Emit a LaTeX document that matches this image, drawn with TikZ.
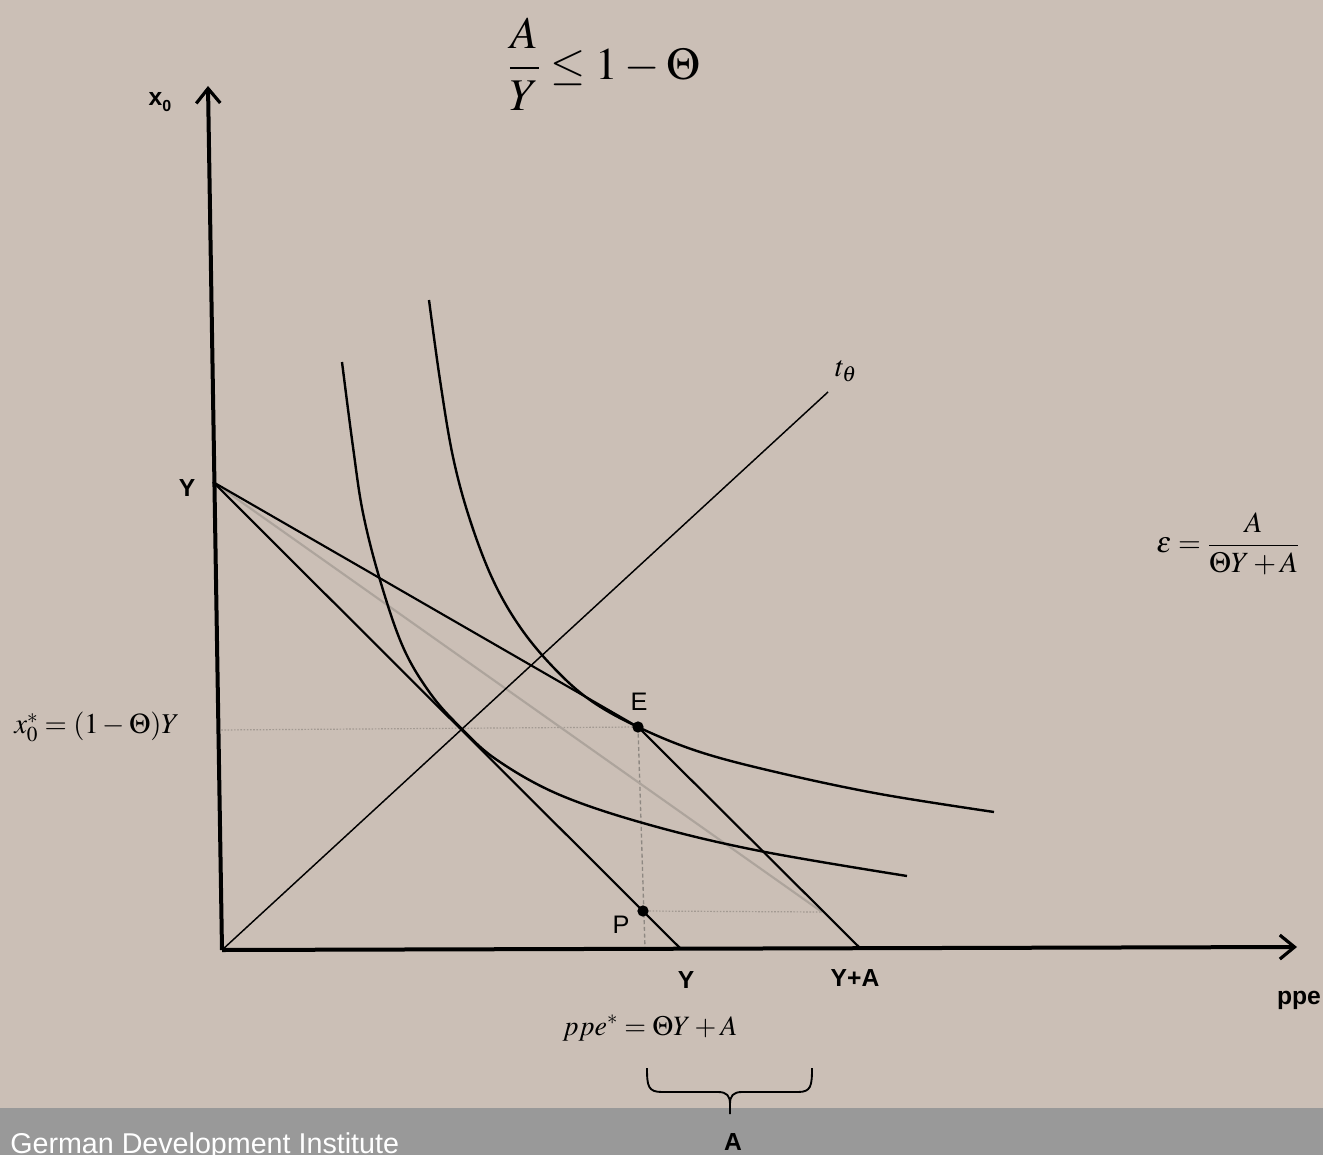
\documentclass[tikz,border=0pt]{standalone}
\usepackage{mathptmx}
\usepackage[no-math]{fontspec}
\newfontfamily\arial{Liberation Sans}
\usetikzlibrary{arrows.meta}
\definecolor{bg}{HTML}{CBBFB6}
\definecolor{bar}{HTML}{999999}
\definecolor{guide}{HTML}{ADA49C}
\definecolor{dotc}{HTML}{A39A92}
\definecolor{dashc}{HTML}{8E8882}
\tikzset{
  axisline/.style={line width=3pt, -{Straight Barb[length=11pt,width=18pt,line width=2.4pt]}},
  budget/.style={line width=1.6pt},
  icurve/.style={line width=1.8pt},
  ray/.style={line width=1.1pt},
  guideline/.style={line width=1.6pt, color=guide},
  dotline/.style={line width=0.9pt, color=dotc, dash pattern=on 1.2pt off 1.2pt},
  dashline/.style={line width=1pt, color=dashc, dash pattern=on 3pt off 2pt},
  lbl/.style={font=\arial\bfseries\fontsize{18.5}{20}\selectfont, inner sep=0pt},
  plbl/.style={font=\arial\fontsize{19}{21}\selectfont, inner sep=0pt},
  mth/.style={font=\fontsize{21.5}{26}\selectfont, inner sep=0pt},
  dotpt/.style={circle, fill=black, inner sep=0pt, minimum size=8.5pt},
}
\begin{document}
\begin{tikzpicture}[x=0.75pt,y=-0.75pt]
\useasboundingbox (0,0) rectangle (1323,1155);
\fill[bg] (0,0) rectangle (1323,1155);
\fill[bar] (0,1108) rectangle (1323,1155);

% coordinates
\coordinate (O) at (222,950);
\coordinate (ytop) at (208,86);
\coordinate (xend) at (1297,947);
\coordinate (Yp) at (213,482);
\coordinate (Yx) at (680,948);
\coordinate (YAx) at (860,948);
\coordinate (Ep) at (638,727);
\coordinate (Pp) at (643,911);
\coordinate (Pfoot) at (645,948);
\coordinate (Gend) at (822,912);
\coordinate (Eleft) at (218,730);
\coordinate (tend) at (828,392);

% guide lines
\draw[dotline] (Eleft) -- (Ep);
\draw[dotline] (Pp) -- (Gend);
\draw[dashline] (Ep) -- (Pfoot);
\draw[guideline] (Yp) -- (Gend);

% ray
\draw[ray] (O) -- (tend);

% budget lines
\draw[budget] (Yp) -- (Yx);
\draw[budget] (Yp) -- (Ep) -- (YAx);

% indifference curves
\draw[icurve] plot[smooth, tension=0.6] coordinates {(342,362) (353,447) (363,513) (380,580) (403,647) (430,693) (460,727) (497,760) (560,795) (650,825) (760,851) (907,876)};
\draw[icurve] plot[smooth, tension=0.6] coordinates {(429,300) (440,380) (453,457) (470,520) (493,580) (520,627) (553,667) (590,700) (638,727) (700,752) (780,773) (880,794) (994,812)};

% axes
\draw[axisline] (O) -- (ytop);
\draw[axisline] (O) -- (xend);

% points
\node[dotpt] (E) at (Ep) {};
\node[dotpt] (P) at (Pp) {};

% brace
\draw[line width=1.4pt] (647,1068) .. controls (647,1086) and (648,1092) .. (662,1092) -- (718,1092) .. controls (727,1092) and (730,1096) .. (730,1104) -- (730,1114);
\draw[line width=1.4pt] (812,1068) .. controls (812,1086) and (811,1092) .. (798,1092) -- (742,1092) .. controls (733,1092) and (730,1096) .. (730,1104);

% labels
\node[lbl] (lx0) at (160,102) {x\raisebox{-0.25em}{\fontsize{12}{13}\selectfont 0}};
\node[lbl] (lY) at (187,488) {Y};
\node[lbl] (lYx) at (686,980) {Y};
\node[lbl] (lYA) at (855,978) {Y+A};
\node[lbl] (lppe) at (1299,1000) {ppe};
\node[lbl] (lA) at (733,1142) {A};
\node[plbl] (lE) at (639,702) {E};
\node[plbl] (lP) at (621,925) {P};
\node[font=\fontsize{22}{26}\selectfont, inner sep=0pt] (lt) at (846,371) {$t_\theta$};

\node[font=\fontsize{34}{40}\selectfont, inner sep=0pt] (ftop) at (604,64) {$\displaystyle\frac{A}{Y}\le 1-\Theta$};
\node[mth, font=\fontsize{22}{26}\selectfont] (feps) at (1228,544) {$\displaystyle\varepsilon=\frac{A}{\Theta Y+A}$};
\node[mth, anchor=west, font=\fontsize{21.5}{26}\selectfont] (fx0) at (14,727) {$x_0^*=(1-\Theta)Y$};
\node[mth, font=\fontsize{21}{26}\selectfont] (fppe) at (650,1028) {$ppe^*=\Theta Y+A$};

\node[font=\arial\fontsize{21.5}{24}\selectfont, text=white, anchor=base west, inner sep=0pt] (gdi) at (10,1153) {German Development Institute};
\end{tikzpicture}
\end{document}
